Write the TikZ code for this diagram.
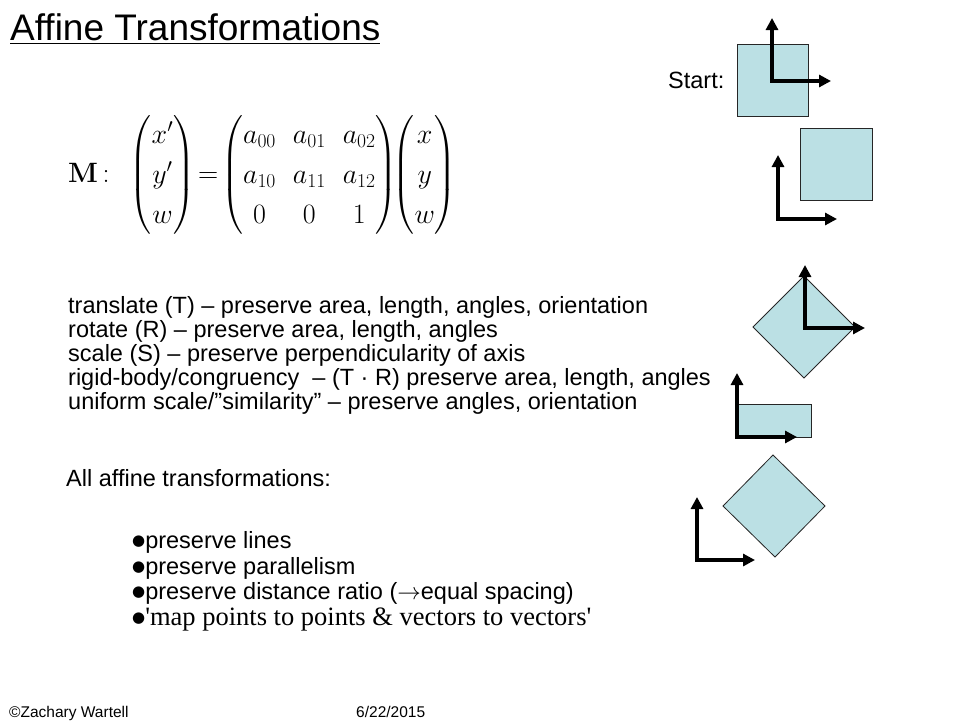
\RequirePackage{fix-cm}
\documentclass[tikz,border=0pt]{standalone}
\usepackage{amsmath}
\usepackage[no-math]{fontspec}
\setmainfont{Liberation Sans}
\newfontfamily\timesfont{Liberation Serif}
\newfontfamily\symfont{DejaVu Sans}
\usepackage{tikz}
\usetikzlibrary{arrows.meta}
\definecolor{tilefill}{RGB}{187,224,228}

\begin{document}
\begin{tikzpicture}[x=1pt, y=-1pt, every node/.style={inner sep=0pt, anchor=base west}]
% Define styles
\tikzstyle{heading} = [font=\fontsize{37}{40}\selectfont]
\tikzstyle{bodytext} = [font=\fontsize{23.5}{24}\selectfont]
\tikzstyle{smalltext} = [font=\fontsize{15.5}{16}\selectfont]
\tikzstyle{tile} = [draw=black!85, fill=tilefill, line width=0.8pt]
\tikzstyle{axispair} = [line width=4pt, line join=miter, {Triangle[length=12pt,width=12pt]}-{Triangle[length=12pt,width=12pt]}]
\newcommand{\blt}{\raisebox{2.5pt}{\symfont\fontsize{15}{15}\selectfont ●}}
\useasboundingbox (0,0) rectangle (960,720);
% Place nodes
\node (title) [heading] at (10,40) {\underline{Affine Transformations}};
\node (start) [bodytext] at (668,88) {Start:};
\node (eqn) [anchor=west, font=\fontsize{28}{40}\selectfont] at (68,175)
  {$\mathbf{M}\,{:}\;\;\begin{pmatrix}x'\\ y'\\ w\end{pmatrix}\!=\!{\arraycolsep=8.5pt\begin{pmatrix}a_{00}&a_{01}&a_{02}\\ a_{10}&a_{11}&a_{12}\\ 0&0&1\end{pmatrix}}\!\!\begin{pmatrix}x\\ y\\ w\end{pmatrix}$};
\node (t1) [bodytext] at (68,313) {translate (T) – preserve area, length, angles, orientation};
\node (t2) [bodytext] at (68,337) {rotate (R) – preserve area, length, angles};
\node (t3) [bodytext] at (68,361) {scale (S) – preserve perpendicularity of axis};
\node (t4) [bodytext] at (68,385) {rigid-body/congruency~ – (T · R) preserve area, length, angles};
\node (t5) [bodytext] at (68,409) {uniform scale/”similarity” – preserve angles, orientation};
\node (all) [bodytext] at (66,486) {All affine transformations:};
\node (b1) [bodytext] at (132,548) {\blt preserve lines};
\node (b2) [bodytext] at (132,574) {\blt preserve parallelism};
\node (b3) [bodytext] at (132,599) {\blt preserve distance ratio ($\rightarrow$equal spacing)};
\node (b4) [bodytext] at (132,625) {\blt{\timesfont\fontsize{26.5}{27}\selectfont\textquotesingle map points to points \& vectors to vectors\textquotesingle}};
\node (author) [smalltext] at (9,717) {©Zachary Wartell};
\node (date) [smalltext] at (356,717) {6/22/2015};
% Draw shapes
\draw [tile] (737,44) rectangle (808,116);
\draw [axispair] (772,18) -- (772,81) -- (831,81);
\draw [tile] (800,128) rectangle (872,200);
\draw [axispair] (778,155) -- (778,219) -- (837,219);
\draw [tile] (804,276) -- (855,327) -- (804,378) -- (753,327) -- cycle;
\draw [axispair] (805,265) -- (805,328) -- (865,328);
\draw [tile] (738,404) rectangle (811,437);
\draw [axispair] (737,373) -- (737,437) -- (797,437);
\draw [tile] (773,455) -- (825,506) -- (775,557) -- (723,506) -- cycle;
\draw [axispair] (697,497) -- (697,560) -- (755,560);
\end{tikzpicture}
\end{document}
